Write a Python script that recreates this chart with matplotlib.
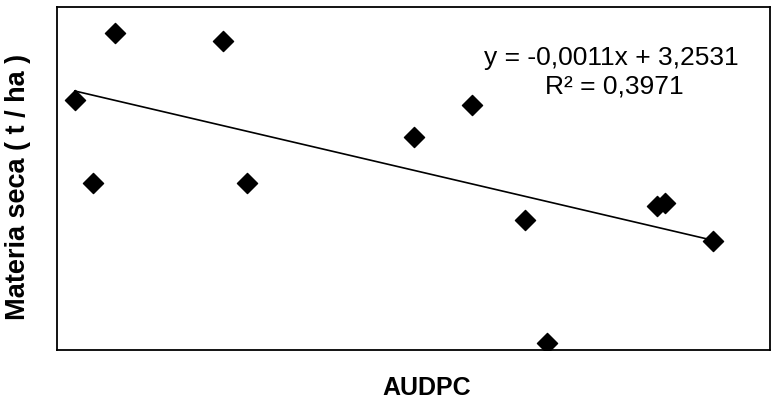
import numpy as np
import matplotlib
matplotlib.use("Agg")
import matplotlib.pyplot as plt

plt.rcParams['font.family'] = ['Liberation Sans', 'DejaVu Sans']

# AUDPC vs dry matter (t/ha)
audpc = [146, 419, 45, 91, 480, 901, 1048, 1182, 1515, 1535, 1656, 1237]
materia_seca = [3.89, 3.80, 3.10, 2.11, 2.11, 2.66, 3.04, 1.67, 1.84, 1.87, 1.42, 0.21]

# trendline as printed on the chart
slope = -0.0011
intercept = 3.2531
r2 = 0.3971

fig = plt.figure(figsize=(7.75, 4), dpi=100)
ax = fig.add_axes([0.0735, 0.125, 0.92, 0.8575])

ax.scatter(audpc, materia_seca, marker='D', s=105, color='black', zorder=3)

xl = np.array([min(audpc), max(audpc)])
ax.plot(xl, slope * xl + intercept, color='black', lw=1.2)

ax.set_xlim(0, 1800)
ax.set_ylim(0.13, 4.2)
ax.set_xticks([])
ax.set_yticks([])
for s in ax.spines.values():
    s.set_linewidth(1.3)

ax.set_xlabel("AUDPC", fontsize=18, fontweight='bold', labelpad=19)
ax.xaxis.label.set_x(0.519)
ax.set_ylabel("Materia seca ( t / ha )", fontsize=19.5, fontweight='bold', labelpad=18.5)
ax.yaxis.label.set_y(0.475)

ax.text(1399, 3.595, "y = -0,0011x + 3,2531", fontsize=19, ha='center', va='center')
ax.text(1406, 3.26, "R\u00b2 = 0,%d" % round(r2 * 10000), fontsize=19, ha='center', va='center')

fig.savefig("out.png", dpi=100)
